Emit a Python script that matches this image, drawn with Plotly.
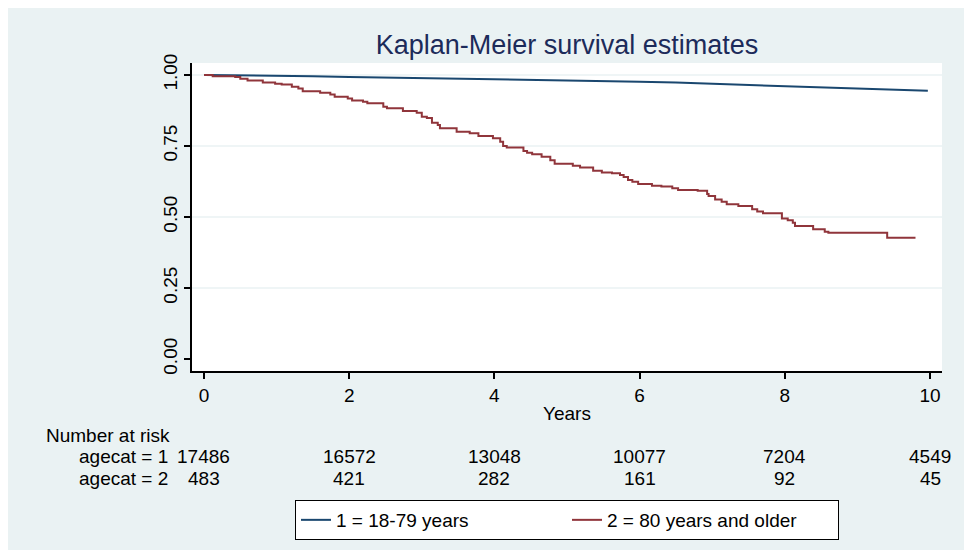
import plotly.graph_objects as go

# ---- data ----
red_t = [0, 0.12, 0.43, 0.50, 0.60, 0.81, 0.98, 1.07, 1.21, 1.30, 1.36, 1.60, 1.74, 1.80,
         1.98, 2.04, 2.19, 2.25, 2.47, 2.52, 2.74, 2.93, 3.00, 3.07, 3.14, 3.22, 3.25,
         3.48, 3.66, 3.78, 3.98, 4.08, 4.12, 4.17, 4.40, 4.45, 4.52, 4.65, 4.77, 4.83,
         5.08, 5.18, 5.36, 5.48, 5.62, 5.73, 5.78, 5.84, 5.90, 5.98, 6.17, 6.30, 6.45,
         6.53, 6.80, 6.93, 6.95, 7.04, 7.13, 7.20, 7.36, 7.55, 7.62, 7.70, 7.96, 8.04,
         8.11, 8.14, 8.39, 8.55, 8.60, 9.41, 9.80]
red_s = [1.000, 0.995, 0.993, 0.987, 0.980, 0.973, 0.969, 0.966, 0.958, 0.952, 0.943, 0.937,
         0.931, 0.923, 0.917, 0.910, 0.906, 0.900, 0.888, 0.883, 0.873, 0.867, 0.853, 0.848,
         0.832, 0.824, 0.812, 0.800, 0.795, 0.785, 0.777, 0.765, 0.750, 0.745, 0.732, 0.726,
         0.721, 0.712, 0.700, 0.687, 0.680, 0.674, 0.663, 0.657, 0.654, 0.648, 0.641, 0.630,
         0.624, 0.616, 0.610, 0.607, 0.601, 0.595, 0.592, 0.581, 0.574, 0.562, 0.554, 0.545,
         0.539, 0.527, 0.519, 0.513, 0.495, 0.489, 0.480, 0.468, 0.457, 0.448, 0.445, 0.427,
         0.427]

blue_t = [0, 0.5, 1, 1.5, 2, 2.5, 3, 3.5, 4, 4.5, 5, 5.5, 6, 6.5, 7, 7.5, 8, 8.5, 9, 9.5, 9.97]
blue_s = [1.000, 0.999, 0.997, 0.995, 0.993, 0.991, 0.990, 0.988, 0.986, 0.984, 0.981, 0.979,
          0.976, 0.973, 0.969, 0.965, 0.961, 0.957, 0.953, 0.949, 0.944]

risk_times = [0, 2, 4, 6, 8, 10]
risk_group1 = [17486, 16572, 13048, 10077, 7204, 4549]
risk_group2 = [483, 421, 282, 161, 92, 45]

x_ticks = [0, 2, 4, 6, 8, 10]
y_ticks = [0.00, 0.25, 0.50, 0.75, 1.00]
y_ticklabels = ["0.00", "0.25", "0.50", "0.75", "1.00"]
grid_vals = [0.25, 0.50, 0.75, 1.00]

names = ["1 = 18-79 years", "2 = 80 years and older"]
title = "Kaplan-Meier survival estimates"

# ---- styling ----
FONT = "Liberation Sans, Arial, Helvetica, sans-serif"
BG = "#EAF2F3"
NAVY = "#1A476F"
MAROON = "#90353B"
OFF = 8  # page body margin
W, H = 972, 550
L, T = 192 - OFF, 63 - OFF
PW, PH = 750, 308
R = W - L - PW
B = H - T - PH


def py(pix):  # screenshot pixel row -> paper y
    return (T + PH - (pix - OFF)) / PH


def px(pix):  # screenshot pixel column -> paper x
    return ((pix - OFF) - L) / PW


fig = go.Figure()
fig.add_trace(go.Scatter(x=blue_t, y=blue_s, mode="lines", name=names[0],
                         line=dict(color=NAVY, width=2)))
fig.add_trace(go.Scatter(x=red_t, y=red_s, mode="lines", name=names[1],
                         line=dict(color=MAROON, width=2, shape="hv")))

for g in grid_vals:
    fig.add_shape(type="line", xref="paper", yref="y", x0=0, x1=1, y0=g, y1=g,
                  line=dict(color=BG, width=1.5), layer="below")

ann = []
ann.append(dict(text="Number at risk", xref="paper", yref="paper", x=px(44), y=py(435),
                xanchor="left", yanchor="middle", showarrow=False))
ann.append(dict(text="agecat = 1", xref="paper", yref="paper", x=px(77), y=py(456),
                xanchor="left", yanchor="middle", showarrow=False))
ann.append(dict(text="agecat = 2", xref="paper", yref="paper", x=px(77), y=py(478),
                xanchor="left", yanchor="middle", showarrow=False))
for t, n1, n2 in zip(risk_times, risk_group1, risk_group2):
    ann.append(dict(text=str(n1), xref="x", yref="paper", x=t, y=py(456),
                    xanchor="center", yanchor="middle", showarrow=False))
    ann.append(dict(text=str(n2), xref="x", yref="paper", x=t, y=py(478),
                    xanchor="center", yanchor="middle", showarrow=False))

fig.update_layout(
    width=W, height=H,
    margin=dict(l=L, r=R, t=T, b=B, autoexpand=False),
    paper_bgcolor=BG, plot_bgcolor="white",
    font=dict(family=FONT, size=19, color="black"),
    title=dict(text=title, x=0.5, xref="paper", xanchor="center",
               y=1 - (45 - OFF) / H, yref="container", yanchor="middle",
               font=dict(family=FONT, size=27, color="#1C2B5A")),
    xaxis=dict(range=[-0.165, 10.165], tickvals=x_ticks, showgrid=False, zeroline=False,
               showline=True, linecolor="black", linewidth=1.5,
               ticks="outside", ticklen=6, tickwidth=1.5, tickcolor="black",
               tickfont=dict(size=19), automargin=False,
               title=dict(text="Years", standoff=2, font=dict(size=19))),
    yaxis=dict(range=[-0.042, 1.042], tickvals=y_ticks, ticktext=y_ticklabels,
               tickangle=-90, showgrid=False, zeroline=False,
               showline=True, linecolor="black", linewidth=1.5,
               ticks="outside", ticklen=6, tickwidth=1.5, tickcolor="black",
               tickfont=dict(size=19), automargin=False),
    legend=dict(orientation="h", x=0.5, xanchor="center", y=py(500), yanchor="top",
                bgcolor="white", bordercolor="black", borderwidth=1,
                font=dict(size=19), entrywidth=226, entrywidthmode="pixels",
                traceorder="normal"),
    annotations=ann,
    showlegend=True,
)

fig.write_html("out.html")
